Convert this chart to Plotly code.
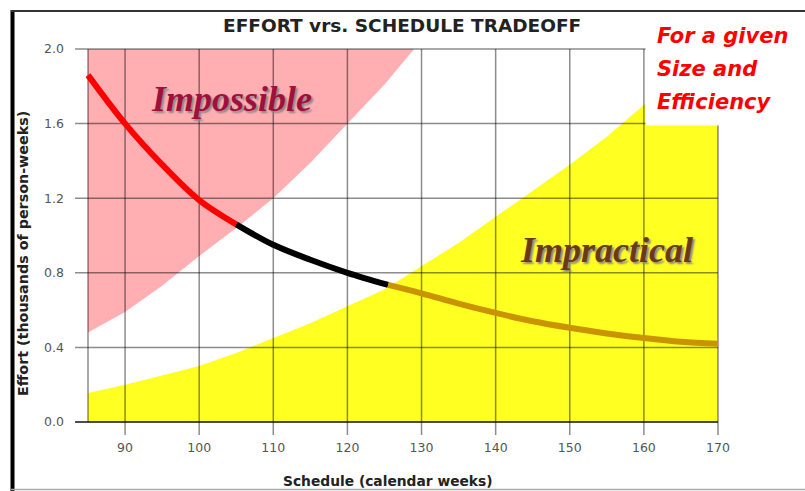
import plotly.graph_objects as go

# ---------------- data ----------------
schedule = [85, 90, 95, 100, 105, 110, 115, 120, 125.5, 130, 135, 140, 145, 150, 155, 160, 165, 170]
effort = [1.86, 1.60, 1.38, 1.19, 1.06, 0.95, 0.87, 0.80, 0.735, 0.69, 0.635, 0.585, 0.54, 0.505, 0.475, 0.45, 0.43, 0.42]

impossible_x = [85, 90, 95, 100, 105, 110, 115, 120, 125, 129]
impossible_y = [0.48, 0.59, 0.73, 0.89, 1.04, 1.20, 1.39, 1.60, 1.81, 2.0]

impractical_x = [85, 90, 95, 100, 105, 110, 115, 120, 125, 130, 135, 140, 145, 150, 155, 160, 165, 170]
impractical_y = [0.155, 0.20, 0.25, 0.30, 0.37, 0.45, 0.53, 0.62, 0.71, 0.835, 0.96, 1.10, 1.24, 1.38, 1.53, 1.70, 1.85, 2.0]

x_ticks = [90, 100, 110, 120, 130, 140, 150, 160, 170]
y_ticks = [0.0, 0.4, 0.8, 1.2, 1.6, 2.0]
y_tick_text = ["0.0", "0.4", "0.8", "1.2", "1.6", "2.0"]

note_lines = ["For a given", "Size and", "Efficiency"]

X_MIN, X_MAX = 85, 170
Y_MIN, Y_MAX = 0.0, 2.0
red_end = 105
black_end = 125.5

# ---------------- layout geometry ----------------
W, H = 805, 491
ML, MR, MT, MB = 75, 83, 45, 55
PW, PH = W - ML - MR, H - MT - MB


def px_x(p):
    return (p - ML) / PW


def px_y(p):
    return 1 - (p - MT) / PH


fig = go.Figure()

# Impossible region (pink)
fig.add_trace(go.Scatter(
    x=impossible_x + [X_MIN, X_MIN], y=impossible_y + [Y_MAX, impossible_y[0]],
    fill="toself", fillcolor="#ffafb2", mode="lines", line=dict(width=0),
    hoverinfo="skip", showlegend=False))

# Impractical region (yellow)
fig.add_trace(go.Scatter(
    x=impractical_x, y=impractical_y, fill="tozeroy", fillcolor="#ffff22",
    mode="lines", line=dict(width=0), hoverinfo="skip", showlegend=False))

# grid lines drawn above the fills (with tick extensions)
grid_col = "rgba(0,0,0,0.45)"
tick_low = -0.07
x_left = 83.25
for xv in [X_MIN] + x_ticks:
    y0 = Y_MIN if xv == X_MIN else tick_low
    fig.add_trace(go.Scatter(x=[xv, xv], y=[y0, Y_MAX], mode="lines",
                             line=dict(color=grid_col, width=1.5),
                             hoverinfo="skip", showlegend=False))
for yv in y_ticks:
    fig.add_trace(go.Scatter(x=[x_left, X_MAX], y=[yv, yv], mode="lines",
                             line=dict(color="rgba(0,0,0,0.7)" if yv == 0 else grid_col,
                                       width=2 if yv == 0 else 1.5),
                             hoverinfo="skip", showlegend=False))

# the effort curve in three colours
segs = [
    ([i for i, s in enumerate(schedule) if s <= red_end], "#ff0000"),
    ([i for i, s in enumerate(schedule) if red_end <= s <= black_end], "#000000"),
    ([i for i, s in enumerate(schedule) if s >= black_end], "#c99400"),
]
for idx, col in segs:
    fig.add_trace(go.Scatter(
        x=[schedule[i] for i in idx], y=[effort[i] for i in idx], mode="lines",
        line=dict(color=col, width=6, shape="spline"),
        hoverinfo="skip", showlegend=False))

kx = (718 - 88) / (X_MAX - X_MIN)
ky = (422 - 49) / (Y_MAX - Y_MIN)
fig.update_xaxes(range=[X_MIN - (88 - ML) / kx, X_MAX + (W - MR - 718) / kx],
                 showgrid=False, zeroline=False, showline=False,
                 tickmode="array", tickvals=x_ticks, ticks="",
                 tickfont=dict(family="DejaVu Sans", size=12.5, color="#555"),
                 ticklabelstandoff=2)
fig.update_yaxes(range=[Y_MIN - (H - MB - 422) / ky, Y_MAX + (49 - MT) / ky],
                 showgrid=False, zeroline=False, showline=False,
                 tickmode="array", tickvals=y_ticks, ticktext=y_tick_text, ticks="",
                 tickfont=dict(family="DejaVu Sans", size=12.5, color="#555"),
                 ticklabelstandoff=10)

shapes = [
    # white box behind the note
    dict(type="rect", xref="paper", yref="paper", layer="above",
         x0=px_x(645.5), x1=px_x(803), y0=px_y(125.5), y1=px_y(12),
         fillcolor="white", line=dict(width=0)),
    # picture frame
    dict(type="line", xref="paper", yref="paper", layer="above",
         x0=px_x(12.5), x1=px_x(12.5), y0=px_y(10), y1=px_y(491),
         line=dict(color="black", width=4)),
    dict(type="line", xref="paper", yref="paper", layer="above",
         x0=px_x(11), x1=px_x(805), y0=px_y(11), y1=px_y(11),
         line=dict(color="#333", width=2)),
    dict(type="line", xref="paper", yref="paper", layer="above",
         x0=px_x(11), x1=px_x(805), y0=px_y(489.5), y1=px_y(489.5),
         line=dict(color="#aaa", width=1.5)),
]

annotations = [
    dict(text="<b>EFFORT vrs. SCHEDULE TRADEOFF</b>", xref="paper", yref="paper",
         x=px_x(402), y=px_y(26), showarrow=False, xanchor="center", yanchor="middle",
         font=dict(family="DejaVu Sans", size=18.5, color="#222")),
    dict(text="<b>Schedule (calendar weeks)</b>", xref="paper", yref="paper",
         x=px_x(388), y=px_y(481), showarrow=False, xanchor="center", yanchor="middle",
         font=dict(family="DejaVu Sans", size=13.8, color="#222")),
    dict(text="<b>Effort (thousands of person-weeks)</b>", xref="paper", yref="paper",
         x=px_x(23), y=px_y(254), showarrow=False, xanchor="center", yanchor="middle",
         textangle=-90, font=dict(family="DejaVu Sans", size=14.3, color="#222")),
    dict(text="<b><i>Impossible</i></b>", x=104.4, y=1.73, showarrow=False,
         xanchor="center", yanchor="middle",
         font=dict(family="Liberation Serif", size=36, color="#a0103c",
                   shadow="2px 2px 2px #888")),
    dict(text="<b><i>Impractical</i></b>", x=155.0, y=0.92, showarrow=False,
         xanchor="center", yanchor="middle",
         font=dict(family="Liberation Serif", size=36, color="#6b3a10",
                   shadow="2px 2px 2px #888")),
]
for i, line in enumerate(note_lines):
    annotations.append(dict(
        text="<b><i>" + line + "</i></b>", xref="paper", yref="paper",
        x=px_x(655), y=px_y(21.5 + 33.3 * i), showarrow=False,
        xanchor="left", yanchor="top", align="left",
        font=dict(family="DejaVu Sans", size=21, color="#ff0000")))

fig.update_layout(
    width=W, height=H, margin=dict(l=ML, r=MR, t=MT, b=MB),
    paper_bgcolor="white", plot_bgcolor="white",
    shapes=shapes, annotations=annotations, showlegend=False,
)

fig.write_html("out.html", config={"displayModeBar": False},
               post_script="document.body.style.margin='0px';")
